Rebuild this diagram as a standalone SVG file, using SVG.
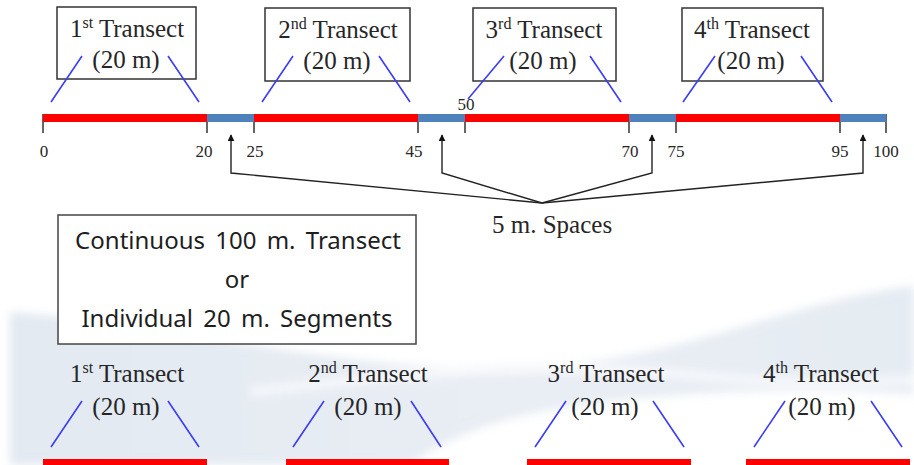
<svg xmlns="http://www.w3.org/2000/svg" width="914" height="465" viewBox="0 0 914 465">
  <defs>
    <style>
      .serif { font-family: "Liberation Serif", "Times New Roman", serif; fill: #262626; }
      .title { font-size: 25px; text-anchor: middle; }
      .num { font-size: 17px; text-anchor: middle; }
      .sans { font-family: "Noto Sans", "Open Sans", sans-serif; font-size: 24px; fill: #1e1e1e; text-anchor: middle; word-spacing: 4px; }
      .box { fill: #ffffff; stroke: #333333; stroke-width: 1.5; }
      .lead { stroke: #3c3cf0; stroke-width: 1.6; fill: none; }
      .red { fill: #ff0000; }
      .blue { fill: #4f81bd; }
      .tick { stroke: #333333; stroke-width: 1.5; }
      .conn { fill: none; stroke: #222222; stroke-width: 1.4; }
    </style>
    <marker id="arrow" viewBox="0 0 10 10" refX="9" refY="5" markerWidth="7" markerHeight="7" markerUnits="userSpaceOnUse" orient="auto">
      <path d="M0,0 L10,5 L0,10 Z" fill="#111111"/>
    </marker>
    <linearGradient id="wave" x1="0" y1="0" x2="1" y2="0">
      <stop offset="0" stop-color="#e2e9f1"/>
      <stop offset="0.6" stop-color="#e9eef4"/>
      <stop offset="1" stop-color="#e4ebf2"/>
    </linearGradient>
    <filter id="soft" x="-5%" y="-30%" width="110%" height="160%">
      <feGaussianBlur stdDeviation="5"/>
    </filter>
  </defs>

  <rect width="914" height="465" fill="#ffffff"/>

  <!-- background wave -->
  <g id="background" filter="url(#soft)">
    <path d="M10,312 C180,325 360,375 520,368 C680,362 790,300 914,286 L914,394 C790,386 650,392 540,412 C470,426 430,450 410,465 L10,465 Z" fill="url(#wave)"/>
    <path d="M250,392 C420,372 560,360 700,376 C780,384 850,384 914,380" fill="none" stroke="#f6f8fb" stroke-width="10"/>
  </g>

  <!-- top scale bar -->
  <g id="scale">
    <line class="tick" x1="43" y1="114" x2="43" y2="133"/>
    <line class="tick" x1="207" y1="114" x2="207" y2="133"/>
    <line class="tick" x1="254" y1="114" x2="254" y2="133"/>
    <line class="tick" x1="418" y1="114" x2="418" y2="133"/>
    <line class="tick" x1="465" y1="114" x2="465" y2="133"/>
    <line class="tick" x1="629" y1="114" x2="629" y2="133"/>
    <line class="tick" x1="676" y1="114" x2="676" y2="133"/>
    <line class="tick" x1="840" y1="114" x2="840" y2="133"/>
    <line class="tick" x1="886" y1="114" x2="886" y2="133"/>
    <rect class="red" x="43" y="114" width="164" height="8"/>
    <rect class="blue" x="207" y="114" width="47" height="8"/>
    <rect class="red" x="254" y="114" width="164" height="8"/>
    <rect class="blue" x="418" y="114" width="47" height="8"/>
    <rect class="red" x="465" y="114" width="164" height="8"/>
    <rect class="blue" x="629" y="114" width="47" height="8"/>
    <rect class="red" x="676" y="114" width="164" height="8"/>
    <rect class="blue" x="840" y="114" width="46" height="8"/>
    <text class="serif num" x="44" y="157">0</text>
    <text class="serif num" x="204" y="157">20</text>
    <text class="serif num" x="255" y="157">25</text>
    <text class="serif num" x="414" y="157">45</text>
    <text class="serif num" x="466" y="110">50</text>
    <text class="serif num" x="630" y="157">70</text>
    <text class="serif num" x="676" y="157">75</text>
    <text class="serif num" x="840" y="157">95</text>
    <text class="serif num" x="886" y="157">100</text>
  </g>

  <!-- top transect labels -->
  <g id="top-transect-1">
    <rect class="box" x="57" y="7" width="139" height="72"/>
    <text class="serif title" x="127" y="37">1<tspan font-size="16" dy="-9">st</tspan><tspan dy="9"> Transect</tspan></text>
    <text class="serif title" x="126" y="68">(20 m)</text>
    <line class="lead" x1="51" y1="102" x2="82" y2="56"/>
    <line class="lead" x1="168" y1="56" x2="199" y2="102"/>
  </g>
  <g id="top-transect-2">
    <rect class="box" x="265" y="8" width="145" height="73"/>
    <text class="serif title" x="338" y="38">2<tspan font-size="16" dy="-9">nd</tspan><tspan dy="9"> Transect</tspan></text>
    <text class="serif title" x="337" y="69">(20 m)</text>
    <line class="lead" x1="262" y1="102" x2="293" y2="56"/>
    <line class="lead" x1="379" y1="56" x2="410" y2="102"/>
  </g>
  <g id="top-transect-3">
    <rect class="box" x="473" y="8" width="143" height="73"/>
    <text class="serif title" x="544" y="38">3<tspan font-size="16" dy="-9">rd</tspan><tspan dy="9"> Transect</tspan></text>
    <text class="serif title" x="543" y="69">(20 m)</text>
    <line class="lead" x1="468" y1="99" x2="504" y2="56"/>
    <line class="lead" x1="590" y1="56" x2="621" y2="102"/>
  </g>
  <g id="top-transect-4">
    <rect class="box" x="682" y="8" width="141" height="73"/>
    <text class="serif title" x="752" y="38">4<tspan font-size="16" dy="-9">th</tspan><tspan dy="9"> Transect</tspan></text>
    <text class="serif title" x="751" y="69">(20 m)</text>
    <line class="lead" x1="683" y1="102" x2="715" y2="56"/>
    <line class="lead" x1="801" y1="56" x2="832" y2="102"/>
  </g>

  <!-- arrows to the 5 m spaces -->
  <g id="connectors">
    <path class="conn" d="M542,203 L231,173 L231,135" marker-end="url(#arrow)"/>
    <path class="conn" d="M542,203 L442,173 L442,135" marker-end="url(#arrow)"/>
    <path class="conn" d="M542,203 L652,173 L652,135" marker-end="url(#arrow)"/>
    <path class="conn" d="M542,203 L863,173 L863,135" marker-end="url(#arrow)"/>
  </g>
  <g id="spaces-label">
    <text class="serif" x="492" y="233" font-size="25">5 m. Spaces</text>
  </g>

  <!-- option box -->
  <g id="option-box">
    <rect x="58" y="215" width="358" height="129" fill="#ffffff" stroke="#444444" stroke-width="1.5"/>
    <text class="sans" x="238" y="249">Continuous 100 m. Transect</text>
    <text class="sans" x="237" y="288">or</text>
    <text class="sans" x="237" y="327">Individual 20 m. Segments</text>
  </g>

  <!-- separate 20 m segments -->
  <g id="segment-1">
    <text class="serif title" x="127" y="382">1<tspan font-size="16" dy="-9">st</tspan><tspan dy="9"> Transect</tspan></text>
    <text class="serif title" x="126" y="415">(20 m)</text>
    <line class="lead" x1="51" y1="447" x2="82" y2="401"/>
    <line class="lead" x1="168" y1="401" x2="199" y2="447"/>
    <rect class="red" x="43" y="459" width="164" height="8"/>
  </g>
  <g id="segment-2">
    <text class="serif title" x="368" y="382">2<tspan font-size="16" dy="-9">nd</tspan><tspan dy="9"> Transect</tspan></text>
    <text class="serif title" x="368" y="415">(20 m)</text>
    <line class="lead" x1="293" y1="447" x2="324" y2="401"/>
    <line class="lead" x1="411" y1="401" x2="441" y2="447"/>
    <rect class="red" x="286" y="459" width="163" height="8"/>
  </g>
  <g id="segment-3">
    <text class="serif title" x="606" y="382">3<tspan font-size="16" dy="-9">rd</tspan><tspan dy="9"> Transect</tspan></text>
    <text class="serif title" x="605" y="415">(20 m)</text>
    <line class="lead" x1="535" y1="447" x2="566" y2="401"/>
    <line class="lead" x1="653" y1="401" x2="684" y2="447"/>
    <rect class="red" x="527" y="459" width="164" height="8"/>
  </g>
  <g id="segment-4">
    <text class="serif title" x="821" y="382">4<tspan font-size="16" dy="-9">th</tspan><tspan dy="9"> Transect</tspan></text>
    <text class="serif title" x="822" y="415">(20 m)</text>
    <line class="lead" x1="754" y1="447" x2="785" y2="401"/>
    <line class="lead" x1="871" y1="401" x2="902" y2="447"/>
    <rect class="red" x="746" y="459" width="164" height="8"/>
  </g>
</svg>
